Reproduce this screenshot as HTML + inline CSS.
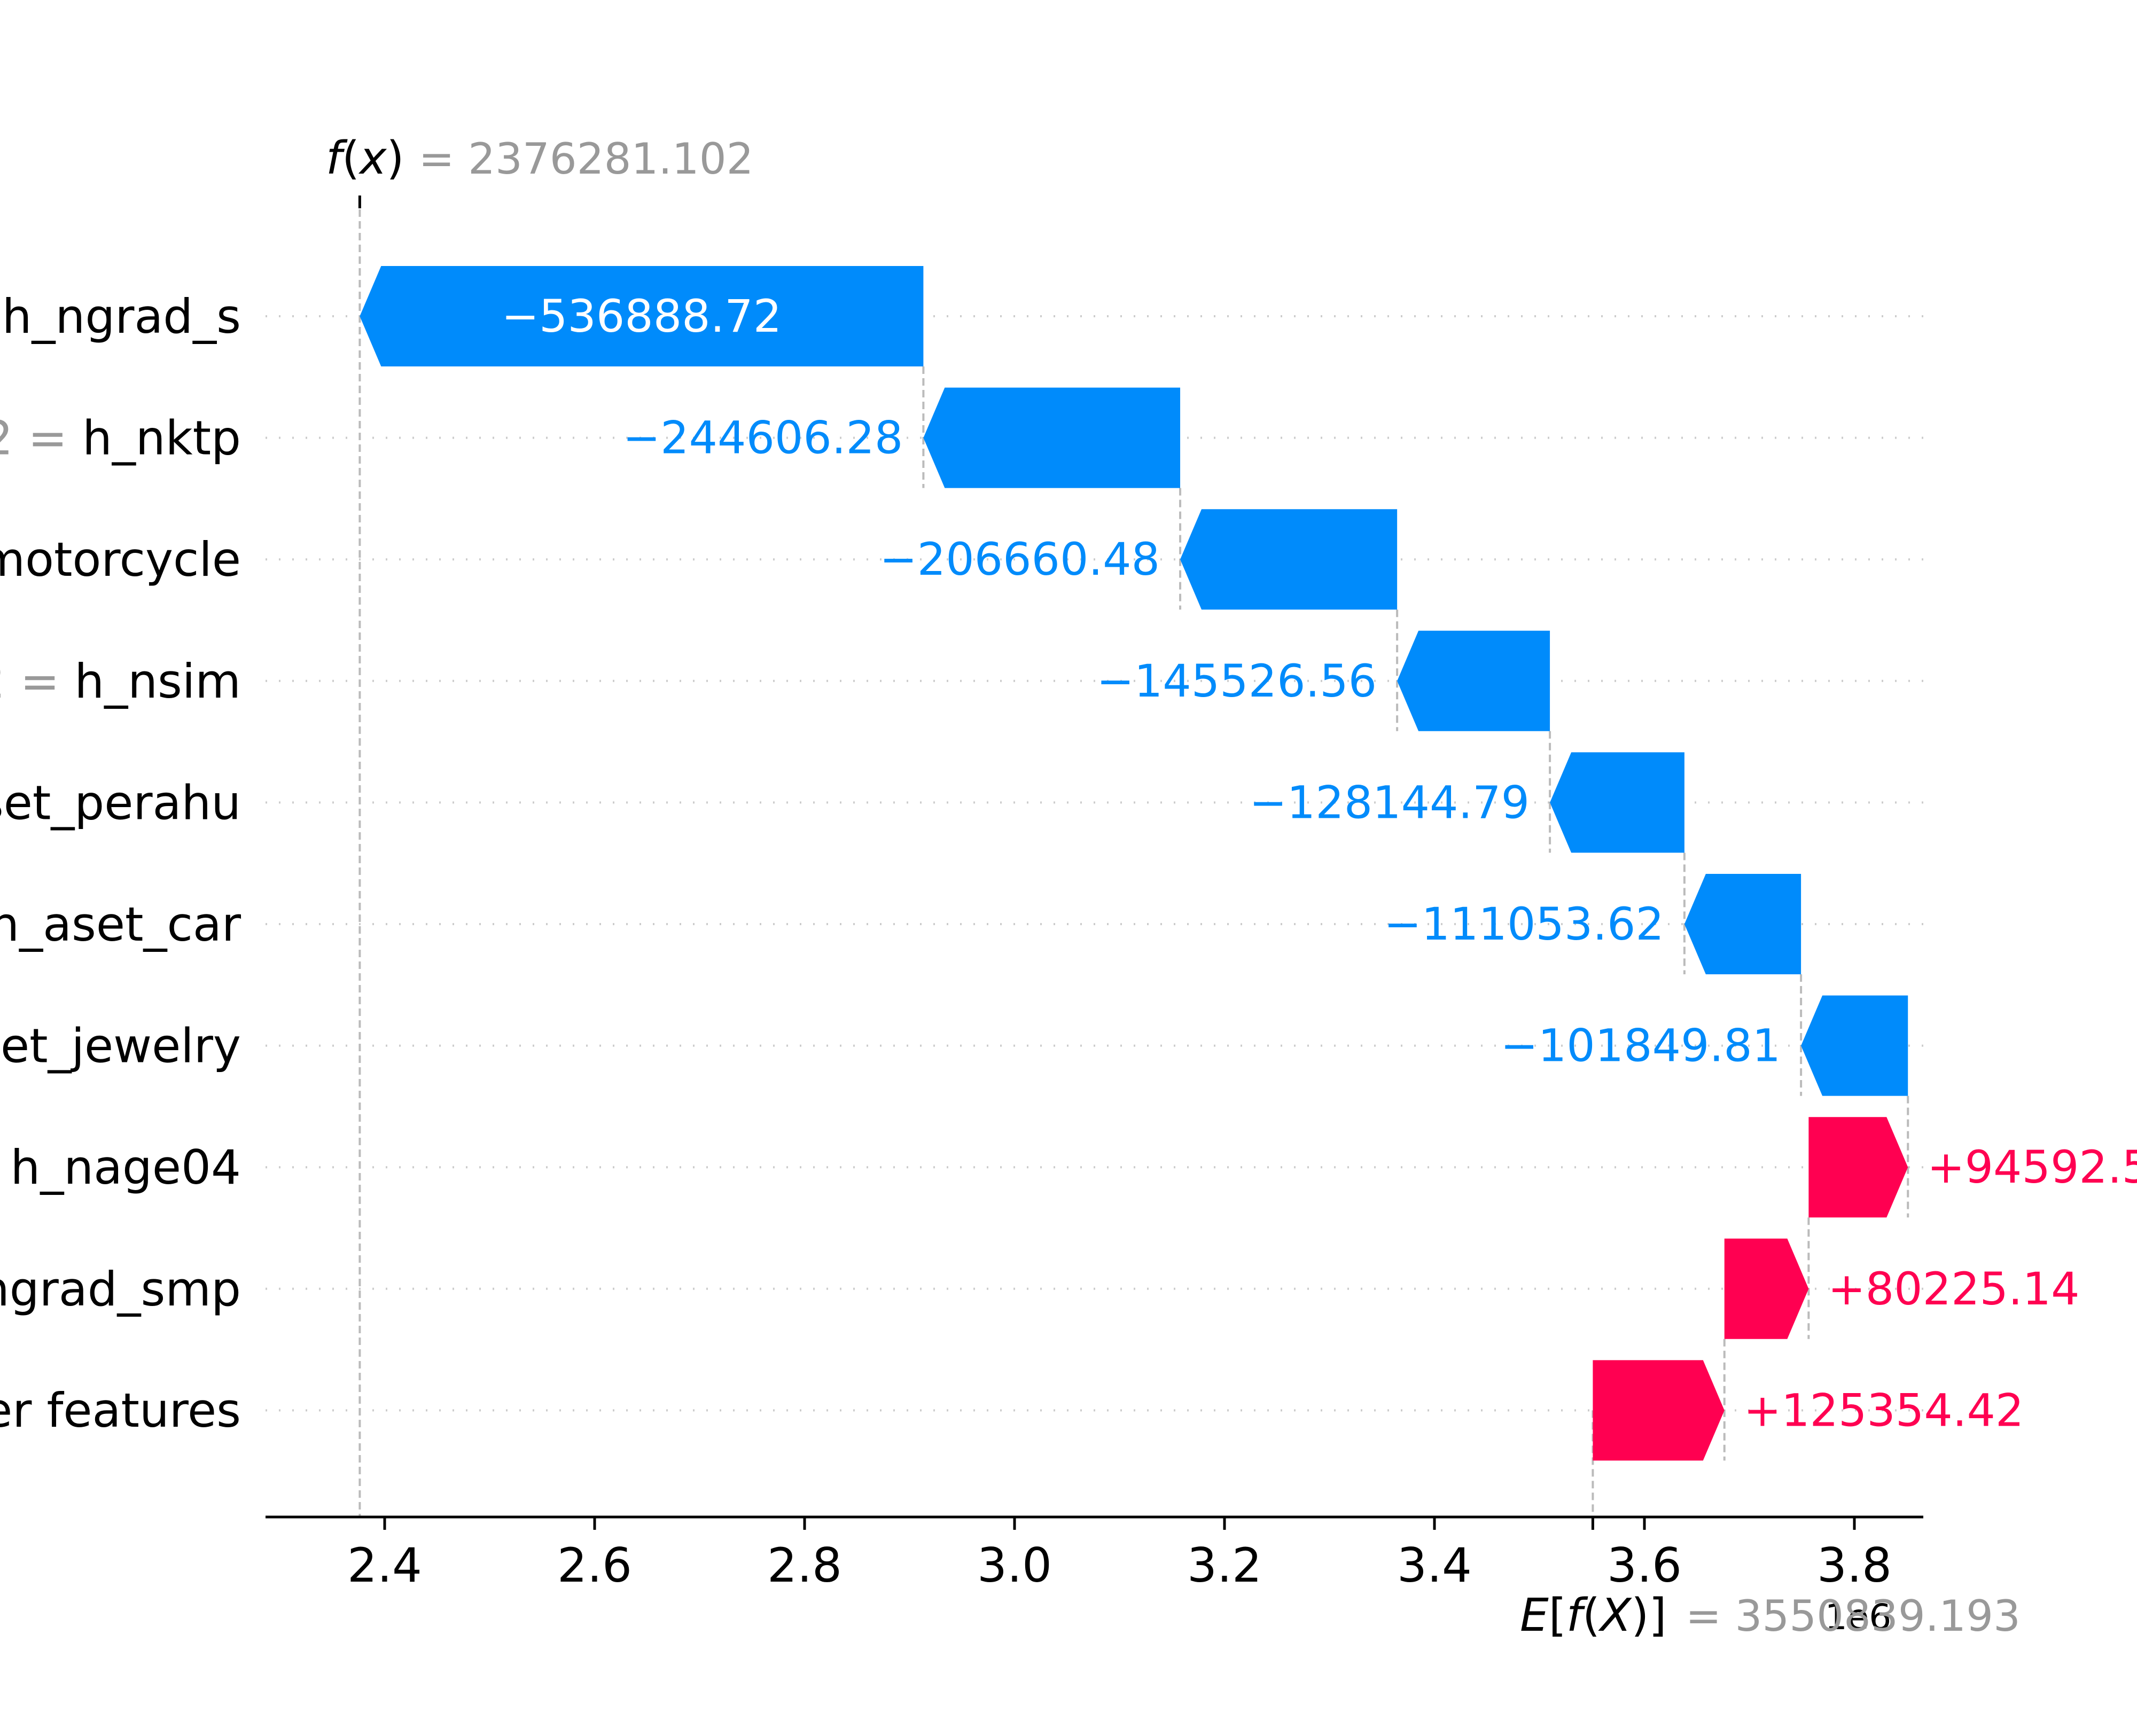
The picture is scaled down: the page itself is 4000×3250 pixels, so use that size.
<!DOCTYPE html>
<html><head><meta charset="utf-8"><style>
html,body{margin:0;padding:0;background:#fff;}
svg{display:block;font-family:"DejaVu Sans","Liberation Sans",sans-serif;}
</style></head><body>
<svg id="chart" width="4000" height="3250" viewBox="0 0 4000 3250" xmlns="http://www.w3.org/2000/svg">
<g id="grid"></g><g id="conn"></g><g id="bars"></g><g id="labels"></g><g id="axis"></g>
</svg>
<script>
const featureNames = ["0 = h_ngrad_s","2 = h_nktp","1 = h_aset_motorcycle","2 = h_nsim","0 = h_aset_perahu","1 = h_aset_car","0 = h_aset_jewelry","1 = h_nage04","0 = h_ngrad_smp","22 other features"];
const shapValues = [-536888.72,-244606.28,-206660.48,-145526.56,-128144.79,-111053.62,-101849.81,94592.55,80225.14,125354.42];
const valueLabels = ["\u2212536888.72","\u2212244606.28","\u2212206660.48","\u2212145526.56","\u2212128144.79","\u2212111053.62","\u2212101849.81","+94592.55","+80225.14","+125354.42"];
const baseValue = 3550839.193;
const fxValue = 2376281.102;
const tickValues = [2.4,2.6,2.8,3.0,3.2,3.4,3.6,3.8];
const tickLabels = ["2.4","2.6","2.8","3.0","3.2","3.4","3.6","3.8"];

const NS="http://www.w3.org/2000/svg";
const X=v=>3471+(v/1e6-3.8)*1965;
const rowY=i=>592+i*227.6;
const H=188, HEAD=40, AXY=2840, XL=497, XR=3600;
function mk(tag,attrs,parent,text){const e=document.createElementNS(NS,tag);for(const k in attrs)e.setAttribute(k,attrs[k]);if(text!=null)e.textContent=text;document.getElementById(parent).appendChild(e);return e;}

const n=shapValues.length;
const starts=new Array(n), ends=new Array(n);
let cur=baseValue;
for(let i=n-1;i>=0;i--){starts[i]=cur;cur+=shapValues[i];ends[i]=cur;}

for(let i=0;i<n;i++){
  const y=rowY(i);
  const g=mk('line',{x1:XL,x2:XR,y1:y,y2:y,stroke:'#ccc','stroke-width':4,'stroke-dasharray':'3,22'},'grid');
  
  
  const lbl=mk('text',{x:451,y:y,'text-anchor':'end','dominant-baseline':'central','font-size':88,fill:'#000'},'labels');
  
  
  const parts=featureNames[i].split(' = ');
  if(parts.length===2){
    const a=document.createElementNS(NS,'tspan');a.setAttribute('fill','#999');a.textContent=parts[0]+' = ';lbl.appendChild(a);
    const b=document.createElementNS(NS,'tspan');b.textContent=parts[1];lbl.appendChild(b);
  } else lbl.textContent=featureNames[i];

  if(i>0){
    const c=mk('line',{x1:X(starts[i-1]),x2:X(starts[i-1]),y1:rowY(i-1)+H/2,y2:y+H/2,stroke:'#bbb','stroke-width':4,'stroke-dasharray':'14,8'},'conn');
    
    
  }
  const x0=X(starts[i]), x1=X(ends[i]);
  const w=Math.abs(x1-x0), hd=Math.min(HEAD,w*0.8);
  const dir=shapValues[i]<0?-1:1;
  const col=dir<0?'#008bfb':'#ff0051';
  const pts=[[x0,y-H/2],[x1-dir*hd,y-H/2],[x1,y],[x1-dir*hd,y+H/2],[x0,y+H/2]].map(p=>p.join(',')).join(' ');
  const bar=mk('polygon',{points:pts,fill:col},'bars');
  
  
  let t;
  if(dir<0 && w>700){
    t=mk('text',{x:(x0+x1)/2,y:y,'text-anchor':'middle','dominant-baseline':'central','font-size':84,fill:'#fff'},'labels',valueLabels[i]);
  } else if(dir<0){
    t=mk('text',{x:x1-38,y:y,'text-anchor':'end','dominant-baseline':'central','font-size':84,fill:col},'labels',valueLabels[i]);
  } else {
    t=mk('text',{x:x1+36,y:y,'text-anchor':'start','dominant-baseline':'central','font-size':84,fill:col},'labels',valueLabels[i]);
  }
  
  
}
const fl=mk('line',{x1:X(fxValue),x2:X(fxValue),y1:392,y2:AXY,stroke:'#bbb','stroke-width':4,'stroke-dasharray':'14,8'},'conn');


const el=mk('line',{x1:X(baseValue),x2:X(baseValue),y1:rowY(n-1),y2:AXY,stroke:'#bbb','stroke-width':4,'stroke-dasharray':'14,8'},'conn');


const ft=mk('line',{x1:X(fxValue),x2:X(fxValue),y1:366,y2:390,stroke:'#000','stroke-width':5},'axis');



const ax=mk('line',{x1:XL,x2:XR,y1:AXY,y2:AXY,stroke:'#000','stroke-width':5},'axis');


for(let k=0;k<tickValues.length;k++){
  const tx=X(tickValues[k]*1e6);
  const tk=mk('line',{x1:tx,x2:tx,y1:AXY,y2:AXY+24,stroke:'#000','stroke-width':5},'axis');
  
  
  const tl=mk('text',{x:tx,y:2961,'text-anchor':'middle','font-size':88,fill:'#000'},'axis',tickLabels[k]);
  
  
}
const bt=mk('line',{x1:X(baseValue),x2:X(baseValue),y1:AXY,y2:AXY+24,stroke:'#000','stroke-width':5},'axis');


const off=mk('text',{x:3478,y:3050,'text-anchor':'middle','font-size':66,fill:'#000'},'axis','1e6');


</script>
<svg style="position:absolute;left:0;top:0" width="4000" height="3250">
<text x="610" y="325" font-family="DejaVu Sans, Liberation Sans, sans-serif" font-size="85"><tspan font-style="italic">f</tspan>(<tspan font-style="italic">x</tspan>) <tspan fill="#999" font-size="80">= 2376281.102</tspan></text>
<text x="2845" y="3053" font-family="DejaVu Sans, Liberation Sans, sans-serif" font-size="85"><tspan font-style="italic">E</tspan>[<tspan font-style="italic">f</tspan>(<tspan font-style="italic">X</tspan>)] <tspan fill="#999" x="3155" font-size="80">= 3550839.193</tspan></text>
</svg>
</body></html>
